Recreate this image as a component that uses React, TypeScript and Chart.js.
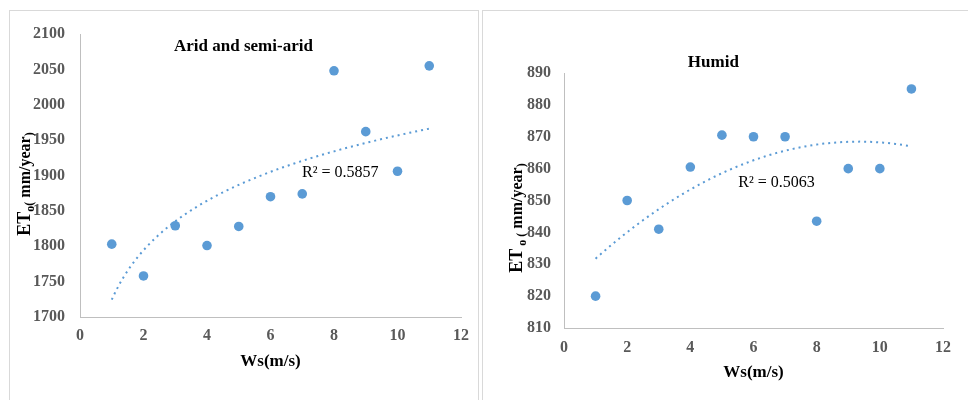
import React, { useEffect, useRef } from "react";
import { Chart, registerables } from "chart.js";

Chart.register(...registerables);

// ---------- data ----------
const windSpeed = [1, 2, 3, 4, 5, 6, 7, 8, 9, 10, 11];
const aridEto = [1803, 1758, 1829, 1801, 1828, 1870, 1874, 2048, 1962, 1906, 2055];
const humidEto = [820, 850, 841, 860.5, 870.5, 870, 870, 843.5, 860, 860, 885];
const aridTitle = "Arid and semi-arid";
const humidTitle = "Humid";
const aridR2 = "R² = 0.5857";
const humidR2 = "R² = 0.5063";
const xAxisTitle = "Ws(m/s)";

const FONT = "'Liberation Serif', 'Times New Roman', Times, serif";
const BLUE = "#5B9BD5";
const TICK_GRAY = "#595959";
const AXIS_GRAY = "#bfbfbf";

// ---------- trend fits (Excel-style trendlines) ----------
function fitLog(xs: number[], ys: number[]) {
  const lx = xs.map((v) => Math.log(v));
  const n = xs.length;
  const mx = lx.reduce((a, b) => a + b, 0) / n;
  const my = ys.reduce((a, b) => a + b, 0) / n;
  let cov = 0, vr = 0;
  for (let i = 0; i < n; i++) {
    cov += (lx[i] - mx) * (ys[i] - my);
    vr += (lx[i] - mx) * (lx[i] - mx);
  }
  const b = cov / vr;
  const a = my - b * mx;
  return (x: number) => a + b * Math.log(x);
}

function det3(m: number[][]) {
  return (
    m[0][0] * (m[1][1] * m[2][2] - m[1][2] * m[2][1]) -
    m[0][1] * (m[1][0] * m[2][2] - m[1][2] * m[2][0]) +
    m[0][2] * (m[1][0] * m[2][1] - m[1][1] * m[2][0])
  );
}

function fitQuad(xs: number[], ys: number[]) {
  const s = [0, 0, 0, 0, 0];
  const t = [0, 0, 0];
  for (let i = 0; i < xs.length; i++) {
    for (let k = 0; k < 5; k++) s[k] += Math.pow(xs[i], k);
    for (let k = 0; k < 3; k++) t[k] += Math.pow(xs[i], k) * ys[i];
  }
  const M = [
    [s[0], s[1], s[2]],
    [s[1], s[2], s[3]],
    [s[2], s[3], s[4]],
  ];
  const D = det3(M);
  const coef = [0, 1, 2].map((c) => {
    const Mc = M.map((row, r) => row.map((v, j) => (j === c ? t[r] : v)));
    return det3(Mc) / D;
  });
  return (x: number) => coef[0] + coef[1] * x + coef[2] * x * x;
}

function trendPoints(fn: (x: number) => number, xs: number[]) {
  const lo = Math.min(...xs);
  const hi = Math.max(...xs);
  const pts: { x: number; y: number }[] = [];
  const steps = 80;
  for (let i = 0; i <= steps; i++) {
    const x = lo + ((hi - lo) * i) / steps;
    pts.push({ x, y: fn(x) });
  }
  return pts;
}

// ---------- text plugin ----------
const panelTextPlugin = {
  id: "panelText",
  afterDraw(chart: any, _args: any, opts: any) {
    const { ctx, chartArea, scales } = chart;
    ctx.save();
    ctx.fillStyle = "#000";
    // chart title
    ctx.font = `bold ${opts.titleSize}px ${FONT}`;
    ctx.textAlign = "center";
    ctx.textBaseline = "middle";
    ctx.fillText(
      opts.title,
      chartArea.left + opts.titleFracX * (chartArea.right - chartArea.left),
      chartArea.top + opts.titleDy
    );
    // R² label
    ctx.font = `${opts.r2Size}px ${FONT}`;
    ctx.fillText(
      opts.r2,
      scales.x.getPixelForValue(opts.r2At[0]),
      scales.y.getPixelForValue(opts.r2At[1])
    );
    // rotated y title with subscripts
    const segs = opts.yTitle as { t: string; size: number; dy: number }[];
    let total = 0;
    const widths = segs.map((s) => {
      ctx.font = `bold ${s.size}px ${FONT}`;
      const w = ctx.measureText(s.t).width;
      total += w;
      return w;
    });
    ctx.translate(opts.yTitleX, opts.yTitleY);
    ctx.rotate(-Math.PI / 2);
    ctx.textAlign = "left";
    ctx.textBaseline = "alphabetic";
    let cx = -total / 2;
    segs.forEach((s, i) => {
      ctx.font = `bold ${s.size}px ${FONT}`;
      ctx.fillText(s.t, cx, s.dy);
      cx += widths[i];
    });
    ctx.restore();
  },
};

type PanelCfg = {
  width: number;
  height: number;
  ys: number[];
  trend: { x: number; y: number }[];
  yMin: number;
  yMax: number;
  yStep: number;
  padTop: number;
  padRight: number;
  yAxisWidth: number;
  xAxisHeight: number;
  yTickPad: number;
  xTickPad: number;
  xTitlePadBottom: number;
  text: any;
};

function Panel({ cfg }: { cfg: PanelCfg }) {
  const ref = useRef<HTMLCanvasElement | null>(null);
  useEffect(() => {
    if (!ref.current) return;
    const chart = new Chart(ref.current, {
      type: "scatter",
      data: {
        datasets: [
          {
            label: "ETo",
            data: windSpeed.map((x, i) => ({ x, y: cfg.ys[i] })),
            backgroundColor: BLUE,
            borderColor: BLUE,
            borderWidth: 0,
            pointRadius: 4.8,
            pointHoverRadius: 4.8,
          },
          {
            label: "trend",
            data: cfg.trend,
            showLine: true,
            borderColor: BLUE,
            borderWidth: 2,
            borderDash: [2, 4],
            pointRadius: 0,
            fill: false,
            tension: 0,
          } as any,
        ],
      },
      options: {
        responsive: false,
        animation: false,
        events: [],
        layout: {
          padding: { top: cfg.padTop, right: cfg.padRight, left: 0, bottom: 0 },
        },
        plugins: {
          legend: { display: false },
          tooltip: { enabled: false },
          panelText: cfg.text,
        } as any,
        scales: {
          x: {
            type: "linear",
            min: 0,
            max: 12,
            grid: { display: false, drawTicks: false, tickLength: 0 },
            border: { display: true, color: AXIS_GRAY, width: 1 },
            ticks: {
              stepSize: 2,
              padding: cfg.xTickPad,
              color: TICK_GRAY,
              font: { family: FONT, size: 16, weight: "bold" },
              callback: (v: any) => String(v),
            },
            title: {
              display: true,
              text: xAxisTitle,
              color: "#000",
              font: { family: FONT, size: 17, weight: "bold" },
              padding: { top: 0, bottom: cfg.xTitlePadBottom },
            },
            afterFit: (s: any) => {
              s.height = cfg.xAxisHeight;
            },
          },
          y: {
            type: "linear",
            min: cfg.yMin,
            max: cfg.yMax,
            grid: { display: false, drawTicks: false, tickLength: 0 },
            border: { display: true, color: AXIS_GRAY, width: 1 },
            ticks: {
              stepSize: cfg.yStep,
              padding: cfg.yTickPad,
              color: TICK_GRAY,
              font: { family: FONT, size: 16, weight: "bold", lineHeight: 1 },
              callback: (v: any) => String(v),
            },
            afterFit: (s: any) => {
              s.width = cfg.yAxisWidth;
            },
          },
        },
      } as any,
      plugins: [panelTextPlugin as any],
    });
    return () => chart.destroy();
  }, [cfg]);
  return (
    <canvas
      ref={ref}
      width={cfg.width}
      height={cfg.height}
      style={{ display: "block", width: cfg.width, height: cfg.height }}
    />
  );
}

const aridCfg: PanelCfg = {
  width: 468,
  height: 389,
  ys: aridEto,
  trend: trendPoints(fitLog(windSpeed, aridEto), windSpeed),
  yMin: 1700,
  yMax: 2100,
  yStep: 50,
  padTop: 9,
  padRight: 16,
  yAxisWidth: 70,
  xAxisHeight: 83,
  yTickPad: 15,
  xTickPad: 9,
  xTitlePadBottom: 28,
  text: {
    title: aridTitle,
    titleSize: 17,
    titleFracX: 0.429,
    titleDy: 13,
    r2: aridR2,
    r2Size: 16,
    r2At: [8.2, 1904],
    yTitleX: 20,
    yTitleY: 173,
    yTitle: [
      { t: "ET", size: 18, dy: 0 },
      { t: "o", size: 12, dy: 4 },
      { t: "(", size: 12, dy: 3 },
      { t: " mm/year", size: 16, dy: 0 },
      { t: ")", size: 12, dy: 3 },
    ],
  },
};

const humidCfg: PanelCfg = {
  width: 485,
  height: 389,
  ys: humidEto,
  trend: trendPoints(fitQuad(windSpeed, humidEto), windSpeed),
  yMin: 810,
  yMax: 890,
  yStep: 10,
  padTop: 62,
  padRight: 25,
  yAxisWidth: 81,
  xAxisHeight: 72,
  yTickPad: 13,
  xTickPad: 10,
  xTitlePadBottom: 17,
  text: {
    title: humidTitle,
    titleSize: 17,
    titleFracX: 0.394,
    titleDy: -10,
    r2: humidR2,
    r2Size: 16,
    r2At: [6.73, 855.6],
    yTitleX: 39,
    yTitleY: 207,
    yTitle: [
      { t: "ET", size: 18, dy: 0 },
      { t: " o", size: 12, dy: 4 },
      { t: " (", size: 12, dy: 3 },
      { t: " mm/year", size: 16, dy: 0 },
      { t: ")", size: 12, dy: 3 },
    ],
  },
};

export default function App() {
  return (
    <div
      style={{
        position: "fixed",
        left: 0,
        top: 0,
        width: 968,
        height: 400,
        overflow: "hidden",
        background: "#fff",
      }}
    >
      <div
        style={{
          position: "absolute",
          left: 9,
          top: 10,
          width: 470,
          height: 420,
          border: "1px solid #d9d9d9",
          boxSizing: "border-box",
          overflow: "hidden",
        }}
      >
        <Panel cfg={aridCfg} />
      </div>
      <div
        style={{
          position: "absolute",
          left: 482,
          top: 10,
          width: 520,
          height: 420,
          border: "1px solid #d9d9d9",
          boxSizing: "border-box",
          overflow: "hidden",
        }}
      >
        <Panel cfg={humidCfg} />
      </div>
    </div>
  );
}
